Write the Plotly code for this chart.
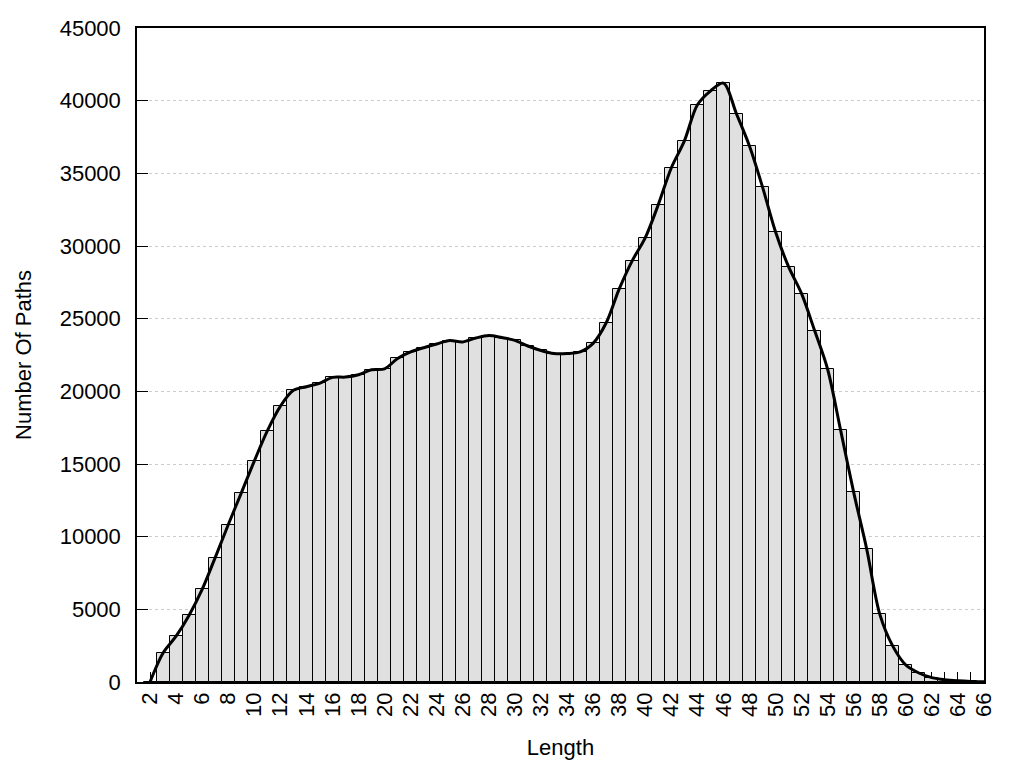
import plotly.graph_objects as go

lengths = list(range(2, 67))
paths = [
    0, 2000, 3150, 4600, 6370, 8560, 10820, 13000, 15200, 17280,
    18970, 20070, 20320, 20550, 20960, 20980, 21140, 21480, 21550, 22260,
    22710, 23000, 23260, 23490, 23400, 23670, 23840, 23700, 23510, 23120,
    22810, 22600, 22600, 22710, 23300, 24700, 27030, 28980, 30560, 32830,
    35370, 37220, 39700, 40660, 41210, 39100, 36880, 34070, 30980, 28580,
    26720, 24180, 21520, 17310, 13050, 9140, 4670, 2470, 1170, 620,
    300, 150, 80, 40, 20,
]
x_tick_vals = list(range(2, 67))
x_tick_text = [str(v) if v % 2 == 0 else "" for v in x_tick_vals]
y_tick_vals = list(range(0, 45001, 5000))

FONT = "Liberation Sans, Arial, sans-serif"

fig = go.Figure()
fig.add_trace(go.Bar(
    x=lengths, y=paths, width=1.0,
    marker=dict(color="#e0e0e0", line=dict(color="black", width=1)),
    showlegend=False, hoverinfo="x+y",
))
fig.add_trace(go.Scatter(
    x=lengths, y=paths, mode="lines",
    line=dict(color="black", width=3, shape="spline", smoothing=0.9),
    showlegend=False,
))

fig.update_layout(
    width=1024, height=768,
    margin=dict(l=129, r=48, t=20, b=94),
    paper_bgcolor="white", plot_bgcolor="white",
    font=dict(family=FONT, size=22, color="black"),
    bargap=0,
)
fig.update_xaxes(
    range=[1, 66], automargin=False,
    tickmode="array", tickvals=x_tick_vals, ticktext=x_tick_text,
    tickangle=-90, ticks="inside", ticklen=10, tickwidth=1, tickcolor="black",
    showline=True, linecolor="black", linewidth=1.5, mirror=True,
    showgrid=False, zeroline=False,
    layer="below traces",
    title=dict(text="Length", font=dict(size=22), standoff=24),
    tickfont=dict(size=22),
)
fig.update_yaxes(
    range=[0, 45000], automargin=False,
    tickmode="array", tickvals=y_tick_vals, ticktext=[str(v) for v in y_tick_vals],
    ticks="inside", ticklen=11, tickwidth=1, tickcolor="black",
    showline=True, linecolor="black", linewidth=1.5, mirror=True,
    showgrid=True, gridcolor="#cccccc", griddash="dot", gridwidth=1,
    zeroline=False,
    layer="below traces",
    ticklabelstandoff=10,
    title=dict(text="Number Of Paths", font=dict(size=22), standoff=22),
    tickfont=dict(size=22),
)

fig.write_html("out.html")
